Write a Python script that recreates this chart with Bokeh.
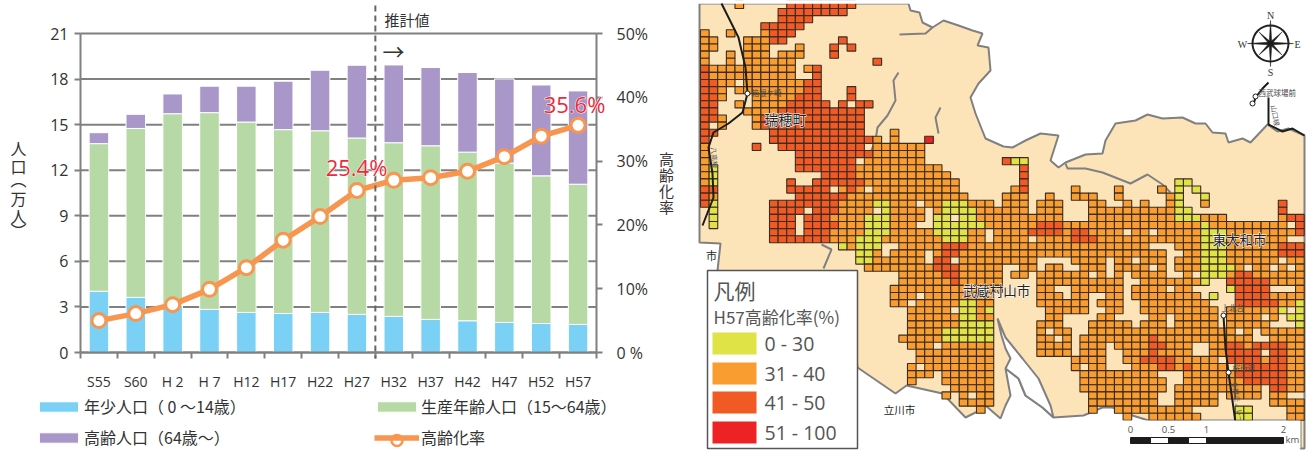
import re, math
from bokeh.plotting import figure
from bokeh.layouts import row
from bokeh.models import (Range1d, LinearAxis, FixedTicker, Label, Legend, LegendItem, Arrow,
                          ColumnDataSource)
from bokeh.core.properties import value
from bokeh.embed import file_html
from bokeh.resources import INLINE

JP = "Noto Sans CJK JP"
LATIN = "Open Sans"
GRAY = "#808080"
INK = "#333333"

# ---------- chart data ----------
categories = ["S55", "S60", "H 2", "H 7", "H12", "H17", "H22", "H27", "H32", "H37", "H42", "H47", "H52", "H57"]
young = [4.03, 3.63, 3.10, 2.84, 2.64, 2.57, 2.64, 2.51, 2.38, 2.18, 2.09, 1.98, 1.91, 1.85]
working = [9.72, 11.12, 12.62, 12.95, 12.53, 12.10, 11.96, 11.61, 11.43, 11.43, 11.10, 10.49, 9.72, 9.23]
elderly = [0.72, 0.93, 1.30, 1.74, 2.36, 3.19, 3.98, 4.79, 5.12, 5.15, 5.24, 5.54, 5.98, 6.14]
aging_rate = [5.0, 6.1, 7.5, 9.9, 13.3, 17.6, 21.3, 25.4, 27.0, 27.4, 28.4, 30.7, 33.9, 35.6]
left_ticks = [0, 3, 6, 9, 12, 15, 18, 21]
right_ticks = [0, 10, 20, 30, 40, 50]

# ---------- map data: one string per grid row, "col" or "from-to" plus class letter ----------
map_rows = [
 "4o 10-17d",
 "9-16d", "9-12d", "7-11d", "0o 3o 7o 8-10d", "0-1o 5-7o 8-9d 16d",
 "0-1o 5-7o 11o 15d 17d", "0o 3o 5-7o 9-11o 15d", "0o 3o 5-10o 20d", "0d 1-10o 12o 13d", "0d 1-10o 13d",
 "0-1d 2-3o 5-11o 12-13d", "0-1d 2o 4o 5-11o 12-13d 17d", "0-1d 2o 6-10o 11-13d 17d",
 "0-1d 4o 6-9o 10-14d 16d 18-19d", "0-1d 5-8o 9-18d", "0-1d 2o 6o 7-18d", "0d 2o 6o 7-18d",
 "0-1d 8-18d 22o", "0d 8-19d 20o 22o 26r", "0o 6d 9-18d 20-25o", "0o 11-19d 20-25o",
 "0o 11-17d 19-25o 35d 36-37y", "0o 1y 11-17d 18-27o 37d", "0o 1y 14-17d 18-28o 37d",
 "0o 1y 10d 13-18d 19-29o 37d 55-56y",
 "0-1d 10-14d 16o 17d 18o 20-29o 36o 37d 43o 48o 53o 55y 57y",
 "0d 1o 11-16d 17-30o 35-37o 40o 43-45o 48o 54o 55y 58y",
 "0d 1y 8-15d 16-19o 20-21y 22-24o 26-27o 28-30y 31-33o 35-37o 39-41o 45-46o 49o 51o 54o 55y 58o 67d",
 "1y 8-11d 13-15d 16-19o 21y 22-25o 27o 28-31y 32-37o 39-41o 45-54o 55-56y 67d",
 "1y 8-10d 12-14d 15-18o 19-21y 22-25o 27-28y 30-31y 32-41o 45-54o 55-57y 58-60o 67o 68-69d",
 "1y 8-10d 12-15d 16-18o 19-21y 22-24o 27-32y 33-38o 39-41d 42-57o 58y 59-67o 69d",
 "8-10d 12-14d 15-18o 19-21y 22-26o 27-30y 31-37o 38-41d 42o 43-44d 45-57o 58-60y 61-68o 69d 33. 49. 52.",
 "8-14d 15-17o 18-20y 21-27o 28-30y 31-57o 58-60y 61-67o 33. 38. 43-45d",
 "16y 17o 18-20y 23-27o 28-30d 31-57o 52-54. 58-60y 61-66o 67-69d",
 "18-19y 20o 22-25o 27o 28-29d 30-57o 54-55. 58-60y 61-66o 67-69d",
 "18-19y 20-25o 27-28d 30-38o 43-57o 47. 50. 54. 58-60y 61-69o 67.",
 "19-26o 27-29d 30-34o 37-38o 40-41o 44-57o 47. 52. 54. 58-61y 62-69o 63. 66. 68.",
 "23-27o 28-29d 30-34o 36-37o 39-57o 45. 47. 49. 54-55. 57. 58-60y 61o 62-63d 64-69o",
 "23-28o 29d 30-34o 39-57o 49-50. 58y 61-65d 66-69o",
 "22-34o 39-40o 43-56o 49. 54. 61y 62-65d 69o",
 "22-24o 26-33o 39-41o 43-44o 47-57o 49. 59y 62-65d 66-69o",
 "22-23o 25-29o 30-31y 32-33o 39-44o 46-57o 49-50. 58o 62-66d 67-68o 69y",
 "24-28o 30-31y 32o 33y 40-44o 47-48o 51-59o 61-66o 67y 69y",
 "24-29o 30-31y 32-33o 40-41o 46-47o 52-59o 54. 61-64o 66o 68y 69y",
 "24-29o 30-33y 39-41o 45-59o 50. 54. 61-65o 69y",
 "24-27o 28-33y 39o 41-42o 45-61o 63o 65-69o",
 "23-27o 28-33y 39-40o 42o 44-61o 52d 62-63o 66-69o",
 "24-33o 27. 39-42o 44-46o 48-56o 52-53d 59-60o 61-62d 63o 64-67d 68-69o",
 "25-33o 39-42o 44-46o 49-56o 52d 59-60o 61-64d 66-67d 68-69o",
 "25-33o 43-46o 49-50o 51-54d 55-59o 61-67d 65o 68-69o",
 "24o 26-33o 43o 45-46o 50-52o 53-54d 55o 56d 57-60o 62o 63-67d 68-69o",
 "24-26o 28-33o 44-52o 56-61o 62-67d 68-69o",
 "24o 28-33o 44-53o 56-62o 63-67d 68-69o",
 "29-33o 44-53o 55-64o 66-67d 68-69o",
 "28o 30o 32-33o 45-52o 55-59o 61-64o 66-67o",
 "30-33o 45-52o 55-59o 66-69o",
 "32o 45o 48-56o 62-63y 68-69o",
 "49o 52-57o 62-63y 68-69o",
]
class_colors = {"y": "#E0E345", "o": "#F99D31", "d": "#F15A24", "r": "#ED2224"}
legend_classes = ["y", "o", "d", "r"]
legend_labels = ["0 - 30", "31 - 40", "41 - 50", "51 - 100"]

land_x = [699, 908, 910, 919, 922, 932, 943, 958, 972, 982, 977, 988, 990, 978, 970, 975, 985, 1003, 1012, 1025, 1040, 1058, 1050, 1058, 1065, 1085, 1102, 1105, 1115, 1135, 1147, 1162, 1182, 1195, 1205, 1212, 1225, 1228, 1242, 1250, 1267, 1277, 1288, 1304,
          1304, 1300, 1300, 1148, 1132, 1112, 1102, 1083, 1053, 1042, 1025, 1018, 1005, 1010, 1005, 1000, 985, 975, 965, 942, 906, 895, 857, 850, 717, 720, 699]
land_y = [3, 3, 10, 12, 22, 27, 20, 25, 30, 33, 45, 47, 70, 83, 97, 113, 138, 146, 147, 140, 133, 135, 160, 167, 162, 154, 153, 140, 123, 120, 114, 118, 117, 123, 123, 132, 133, 142, 138, 142, 124, 131, 128, 135,
          448, 448, 420, 420, 415, 407, 407, 415, 417, 407, 395, 378, 368, 395, 405, 418, 405, 412, 417, 393, 385, 393, 367, 300, 270, 243, 242]
wedge_x = [997, 1005, 1022, 1038, 1050, 1053, 1042, 1025, 1018, 1005, 1010, 1005, 1001]
wedge_y = [318, 337, 358, 378, 405, 417, 407, 395, 378, 368, 358, 348, 335]
river_x = [[899, 925, 932], [898, 893, 895, 887, 877, 875, 868], [940, 935, 938], [1065, 1067, 1085, 1102, 1130, 1147, 1162, 1170], [821, 831, 823]]
river_y = [[34, 33, 27], [72, 80, 100, 115, 127, 140, 157], [107, 117, 133], [163, 168, 168, 172, 183, 174, 184, 192], [244, 249, 268]]
rail_x = [[721, 738, 745, 747, 742, 728, 713, 708, 712, 713, 702], [1223, 1225, 1228, 1235], [1268, 1268, 1282, 1292, 1304], [1268, 1262, 1255, 1253]]
rail_y = [[3, 37, 67, 93, 112, 123, 132, 147, 173, 197, 225], [315, 348, 372, 422], [97, 124, 131, 128, 135], [82, 88, 97, 104]]
station_x = [747, 1223, 1228, 1255, 1252]
station_y = [93, 315, 372, 96, 103]

# ---------- left: chart ----------
W_L, H = 693, 450
FR_L, FR_R, FR_T, FR_B = 80.0, 596.0, 33.0, 352.0   # plot area on the canvas
ux = (FR_R - FR_L) / len(categories)
uy = (FR_B - FR_T) / 21
p = figure(width=W_L, height=H,
           x_range=Range1d(-FR_L / ux, (W_L - FR_L) / ux),
           y_range=Range1d(-(H - FR_B) / uy, 21 + FR_T / uy),
           output_backend="svg", toolbar_location=None, min_border=0,
           background_fill_color="white", border_fill_color="white", outline_line_color=None)
p.grid.visible = False
centers = [i + 0.5 for i in range(len(categories))]
src = ColumnDataSource(dict(x=centers, young=young, working=working, elderly=elderly, rate=aging_rate))
p.segment(x0=[0] * len(left_ticks), x1=[len(categories)] * len(left_ticks), y0=left_ticks, y1=left_ticks,
          line_color=GRAY, line_width=2)
bars = p.vbar_stack(["young", "working", "elderly"], x="x", width=0.53, source=src,
                    color=["#7BD1F5", "#B6D9A6", "#A897C8"], line_color="white", line_width=1)
p.xaxis.fixed_location = 0
p.xaxis.bounds = (0, len(categories))
p.xaxis.ticker = FixedTicker(ticks=centers, minor_ticks=list(range(len(categories) + 1)))
p.xaxis.major_label_overrides = {c: t for c, t in zip(centers, categories)}
p.xaxis.major_tick_line_color = None
p.xaxis.minor_tick_out = 6
p.xaxis.minor_tick_in = 0
p.xaxis.minor_tick_line_color = GRAY
p.xaxis.minor_tick_line_width = 2
p.xaxis.major_label_standoff = 13
p.xaxis.major_label_text_font = LATIN
p.xaxis.major_label_text_font_size = "14px"
p.xaxis.major_label_text_color = INK
p.xaxis.axis_line_color = GRAY
p.xaxis.axis_line_width = 2

def style_y(ax):
    ax.axis_line_color = GRAY
    ax.axis_line_width = 2
    ax.major_tick_line_color = GRAY
    ax.major_tick_line_width = 2
    ax.major_tick_in = 0
    ax.major_tick_out = 6
    ax.minor_tick_line_color = None
    ax.major_label_text_font = LATIN
    ax.major_label_text_font_size = "16px"
    ax.major_label_text_color = INK
    ax.major_label_standoff = 6

p.yaxis.fixed_location = 0
p.yaxis.bounds = (0, 21)
p.yaxis.ticker = FixedTicker(ticks=left_ticks)
style_y(p.yaxis[0])

p.extra_y_ranges["pct"] = Range1d(-(H - FR_B) / uy * 50 / 21, 50 + FR_T / uy * 50 / 21)
rax = LinearAxis(y_range_name="pct", ticker=FixedTicker(ticks=right_ticks),
                 major_label_overrides={t: (f"{t}%" if t else "0 %") for t in right_ticks},
                 fixed_location=len(categories), bounds=(0, 50))
style_y(rax)
rax.major_label_standoff = 14
p.add_layout(rax, "right")

line = p.line("x", "rate", source=src, y_range_name="pct", line_color="#F8964F", line_width=5.5)
pts = p.scatter("x", "rate", source=src, y_range_name="pct", size=14, marker="circle",
                fill_color="white", line_color="#F8964F", line_width=3)

p.add_layout(Arrow(end=None, x_start=8, x_end=8, y_start=21.0 + 1.85, y_end=-0.4,
                   line_color="#666666", line_width=2, line_dash="6 4"))

def frame_label(px, py, text, size, color=INK, font=JP, align="left", baseline="middle", outline=None):
    lb = Label(x=px, y=H - py, x_units="screen", y_units="screen", text=text,
               text_font=font, text_font_size=f"{size}px", text_color=color,
               text_align=align, text_baseline=baseline)
    if outline:
        lb.text_outline_color = outline
    return lb

def halo_label(px, py, text, size, color):
    p.add_layout(frame_label(px, py, text, size, color="white", font=LATIN, align="center", outline="white"))
    p.add_layout(frame_label(px, py, text, size, color=color, font=LATIN, align="center"))

p.add_layout(frame_label(384, 19, "推計値", 15))
p.add_layout(frame_label(382, 49, "→", 22))
halo_label(356, 166, "25.4%", 22, "#EE2A3A")
halo_label(574, 103, "35.6%", 22, "#EE2A3A")
for ch, yy in zip(["人", "口", "︵", "万", "人", "︶"], [147, 165, 178, 197, 215, 229]):
    p.add_layout(frame_label(18, yy, ch, 16, align="center"))
for ch, yy in zip("高齢化率", [158, 174, 190, 206]):
    p.add_layout(frame_label(666, yy, ch, 15, align="center"))

def chart_legend(x, cy, label, renderers, gw=49, gh=13, standoff=0):
    lh = 18
    lg = Legend(items=[LegendItem(label=label, renderers=renderers)], location=(x, H - cy - lh / 2), padding=0, margin=0,
                border_line_color=None, background_fill_alpha=0, glyph_width=gw, glyph_height=gh,
                label_standoff=standoff, label_text_font=JP, label_text_font_size="16px", label_text_color=INK,
                label_height=lh)
    p.add_layout(lg)

chart_legend(34, 409, "年少人口（ 0 ～14歳）", [bars[0]], standoff=1)
chart_legend(34, 440, "高齢人口（64歳～）", [bars[2]], standoff=1)
chart_legend(372, 409, "生産年齢人口（15～64歳）", [bars[1]])
chart_legend(374, 440, "高齢化率", [line], gw=45, gh=13, standoff=2)
# the key's ring is larger than a legend can draw it at this row height
p.scatter([(396.5 - FR_L) / ux], [(FR_B - 440) / uy], size=11, marker="circle", level="overlay",
          fill_color="white", line_color="#F8964F", line_width=2.5)

# ---------- right: map ----------
W_R = 621
m = figure(width=W_R, height=H, x_range=Range1d(693, 1314), y_range=Range1d(450, 0),
           output_backend="svg", toolbar_location=None, min_border=0,
           background_fill_color="white", border_fill_color="white", outline_line_color=None)
m.axis.visible = False
m.grid.visible = False

CELL_W, CELL_H = 8.624, 7.1
X0, Y0 = 700.0, 0.9
MAP_LAND = "#FDE3B8"
m.patch(land_x, land_y, fill_color=MAP_LAND, line_color=GRAY, line_width=2)
m.patch(wedge_x, wedge_y, fill_color="white", line_color=GRAY, line_width=2)
m.multi_line(river_x, river_y, line_color=GRAY, line_width=2)

grid = {}
for r, spec in enumerate(map_rows):
    for a, b, c in re.findall(r"(\d+)(?:-(\d+))?([.yodr])", spec):
        for k in range(int(a), int(b or a) + 1):
            if c == ".":
                grid.pop((k, r), None)
            else:
                grid[(k, r)] = c
keys = list(grid)
m.quad(left=[X0 + CELL_W * k for k, r in keys], right=[X0 + CELL_W * (k + 1) for k, r in keys],
       top=[Y0 + CELL_H * r for k, r in keys], bottom=[Y0 + CELL_H * (r + 1) for k, r in keys],
       fill_color=[class_colors[grid[kk]] for kk in keys], line_color="#3A2C20", line_width=1.1)
m.quad(left=[693], right=[1314], top=[0], bottom=[3.3], fill_color="white", line_color=None)

m.multi_line(rail_x, rail_y, line_color="#1c1c1c", line_width=2)
m.scatter(station_x, station_y, size=5, marker="circle", fill_color="white", line_color="#1c1c1c", line_width=1)

def mtext(x, y, text, size, color="#222222", align="left", angle=0, font=JP, outline=None):
    kw = {}
    if outline:
        kw["text_outline_color"] = outline
    m.text([x], [y], text=[text], text_font=value(font), text_font_size=f"{size}px", text_color=color,
           text_align=align, text_baseline="middle", angle=[-math.radians(angle)], **kw)

for x, y, t, s in [(785, 118, "瑞穂町", 14), (996, 289, "武蔵村山市", 13.5), (1239, 238, "東大和市", 13.5)]:
    mtext(x, y, t, s, color="white", align="center", outline="white")
    mtext(x, y, t, s, align="center")
mtext(899, 409, "立川市", 10.5, align="center")
mtext(711, 254, "市", 11, align="center")
for x, y, t in [(751, 92, "箱根ケ崎"), (1258, 92, "西武球場前"), (1221, 307, "上北台"), (1232, 367, "桜街道")]:
    mtext(x, y, t, 7.5, color="#444444")
mtext(1275, 115, "山口線", 7, color="#555555", align="center", angle=80)
mtext(714, 157, "八高線", 7, color="#555555", align="center", angle=85)
mtext(1238, 405, "多摩モノレール", 7, color="#555555", align="center", angle=80)

# compass
cx, cy, R = 1270, 43, 19
m.annular_wedge([cx], [cy], inner_radius=R - 2, outer_radius=R, start_angle=0, end_angle=2 * math.pi, fill_color="#222222", line_color=None)
star_x, star_y = [], []
for i in range(16):
    a = math.pi / 8 * i
    ln = 23 if i % 4 == 0 else (16 if i % 4 == 2 else 3)
    star_x.append(cx + ln * math.sin(a))
    star_y.append(cy - ln * math.cos(a))
m.patch(star_x, star_y, fill_color="#1c1c1c", line_color="#1c1c1c", line_width=0.5)
for x, y, t in [(1270, 15, "N"), (1270, 72, "S"), (1297, 44, "E"), (1242, 44, "W")]:
    mtext(x, y, t, 10, align="center", font="Liberation Serif", color="#333333")

# scale bar
m.quad(left=[1106], right=[1300], top=[420], bottom=[448], fill_color="white", line_color=None)
scale_edges = [1130, 1150, 1168, 1188, 1206, 1283]
m.quad(left=scale_edges[:-1], right=scale_edges[1:], top=[437] * 5, bottom=[443] * 5,
       fill_color=["#1c1c1c", "white", "#1c1c1c", "white", "#1c1c1c"], line_color="#1c1c1c", line_width=1)
for x, t in [(1130, "0"), (1168, "0.5"), (1206, "1"), (1283, "2")]:
    mtext(x, 429, t, 9.5, align="center", font=LATIN, color="#555555")
mtext(1285, 439, "km", 9.5, font=LATIN, color="#555555")

# legend panel
m.quad(left=[707], right=[857], top=[270], bottom=[448], fill_color="white", line_color="#555555", line_width=1.5)
mtext(713, 289, "凡例", 21, color="#555555")
mtext(713, 316, "H57高齢化率(%)", 17, color="#555555")
sw_tops = [332, 362, 391, 421]
m.quad(left=[712] * 4, right=[756] * 4, top=sw_tops, bottom=[t + 22 for t in sw_tops],
       fill_color=[class_colors[c] for c in legend_classes], line_color=None)
for t, lab in zip(sw_tops, legend_labels):
    mtext(764, t + 11, lab, 19.5, color="#555555", font=LATIN)

page = row(p, m, spacing=0)
open("out.html", "w").write(file_html(page, INLINE))
